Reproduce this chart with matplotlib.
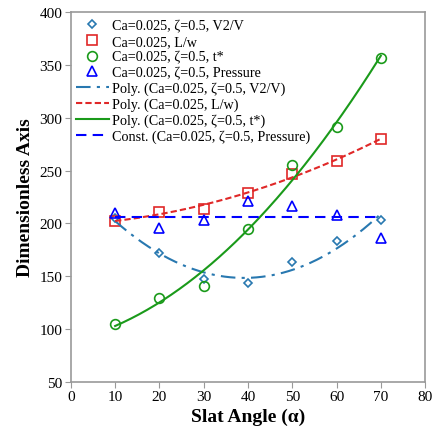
import matplotlib
matplotlib.use("Agg")
import matplotlib.pyplot as plt
import numpy as np

# data
angle = [10, 20, 30, 40, 50, 60, 70]
v2v = [205, 172, 147, 144, 163, 183, 203]
lw = [202, 211, 214, 229, 247, 259, 280]
tstar = [105, 129, 141, 195, 255, 291, 357]
pressure = [210, 196, 203, 221, 216, 208, 186]

plt.rcParams['font.family'] = ['Liberation Serif', 'DejaVu Serif']

fig = plt.figure(figsize=(4.32, 4.39), dpi=100)
ax = fig.add_axes([0.164, 0.128, 0.820, 0.842])

c_v2v = '#2878b0'
c_lw = '#e02828'
c_t = '#1a9a1a'
c_p = '#0000ff'

ax.plot(angle, v2v, 'D', ms=4.5, mfc='none', mec=c_v2v, mew=1.2, ls='none',
        label='Ca=0.025, ζ=0.5, V2/V')
ax.plot(angle, lw, 's', ms=7, mfc='none', mec=c_lw, mew=1.2, ls='none',
        label='Ca=0.025, L/w')
ax.plot(angle, tstar, 'o', ms=7, mfc='none', mec=c_t, mew=1.2, ls='none',
        label='Ca=0.025, ζ=0.5, t*')
ax.plot(angle, pressure, '^', ms=6.5, mfc='none', mec=c_p, mew=1.2, ls='none',
        label='Ca=0.025, ζ=0.5, Pressure')

# trendlines
xs = np.linspace(10, 70, 200)
ax.plot(xs, np.polyval(np.polyfit(angle, v2v, 2), xs), color=c_v2v, lw=1.5,
        dashes=(7, 3, 1.5, 3), label='Poly. (Ca=0.025, ζ=0.5, V2/V)')
ax.plot(xs, np.polyval(np.polyfit(angle, lw, 2), xs), color=c_lw, lw=1.5,
        dashes=(3, 1.5), label='Poly. (Ca=0.025, L/w)')
ax.plot(xs, np.polyval(np.polyfit(angle, tstar, 2), xs), color=c_t, lw=1.5,
        label='Poly. (Ca=0.025, ζ=0.5, t*)')
ax.plot([10, 70], [np.mean(pressure)] * 2, color=c_p, lw=1.5,
        dashes=(5, 3), label='Const. (Ca=0.025, ζ=0.5, Pressure)')

ax.set_xlim(0, 80)
ax.set_ylim(50, 400)
ax.set_xticks(range(0, 81, 10))
ax.set_yticks(range(50, 401, 50))
for s in ax.spines.values():
    s.set_color('#999999')
    s.set_linewidth(1.2)
ax.tick_params(direction='out', color='#999999', length=4, labelsize=11, pad=2)

ax.set_xlabel('Slat Angle (α)', fontsize=14, fontweight='bold', labelpad=3)
ax.set_ylabel('Dimensionless Axis', fontsize=14, fontweight='bold', labelpad=4)

ax.legend(loc='upper left', frameon=False, fontsize=10.2, handlelength=2.3,
          handletextpad=0.2, labelspacing=0.18, borderaxespad=0.1,
          bbox_to_anchor=(-0.005, 1.0))

fig.savefig('out.png', dpi=100)
